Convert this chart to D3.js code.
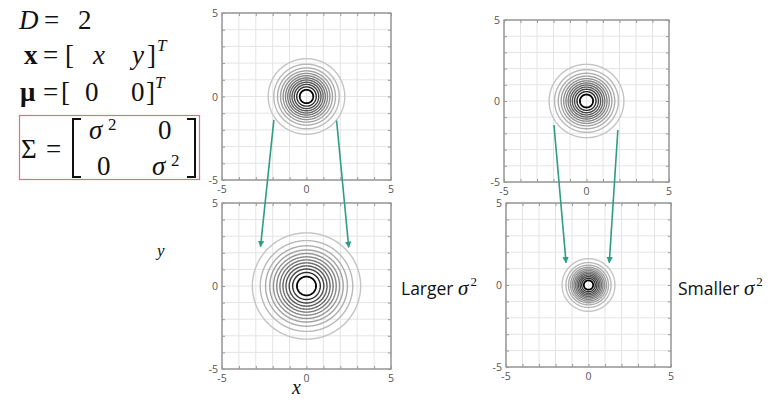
<!DOCTYPE html>
<html>
<head>
<meta charset="utf-8">
<script src="https://cdn.jsdelivr.net/npm/d3@7"></script>
<style>
  body { margin: 0; background: #fff; }
  svg { display: block; }
  .tick-label { font-family: "Open Sans", sans-serif; font-size: 10.5px; fill: #555; }
  .math { font-family: "Liberation Serif", serif; fill: #111; }
  .caption { font-family: "Open Sans", sans-serif; font-size: 17.5px; fill: #111; }
</style>
</head>
<body>
<div id="chart"></div>
<script>
// variance of each panel: top-left, bottom-left, top-right, bottom-right
var sigmaSq = [1, 2, 1, 0.5];
// contour levels as a fraction of the peak density
var levels = [1, 2, 3, 4, 5, 6, 7, 8, 9, 10, 11, 12].map(function(k) { return k / 13; });
var domain = [-5, 5];
var tickLabels = [-5, 0, 5];
var gridTicks = [-5, -4, -3, -2, -1, 0, 1, 2, 3, 4, 5];
// arrows: start point in a top panel, end point in the bottom panel (data units)
var arrowFrom = [[-1.93, -1.4], [1.78, -1.44], [-1.97, -1.48], [1.9, -1.79]];
var arrowTo = [[-2.72, 2.37], [2.5, 2.33], [-1.36, 1.36], [1.26, 1.36]];
var arrowPanels = [[0, 1], [0, 1], [2, 3], [2, 3]];

var W = 771, H = 405;
var svg = d3.select("#chart").append("svg").attr("width", W).attr("height", H);

// panel boxes in pixels
var boxes = [
  {x: 222, y: 13, w: 169, h: 167},
  {x: 222, y: 203, w: 169, h: 166},
  {x: 504, y: 20, w: 165, h: 162},
  {x: 506, y: 203, w: 165, h: 164}
];

var scales = boxes.map(function(b) {
  return {
    x: d3.scaleLinear().domain(domain).range([b.x, b.x + b.w]),
    y: d3.scaleLinear().domain(domain).range([b.y + b.h, b.y])
  };
});

var shade = d3.scaleLinear().domain([0, levels.length - 1]).range(["#c4c4c4", "#000"]).interpolate(d3.interpolateRgb.gamma(1.6));

var n = 241;
function density(s2) {
  var values = new Array(n * n);
  for (var j = 0; j < n; j++) {
    for (var i = 0; i < n; i++) {
      var xv = domain[0] + i * (domain[1] - domain[0]) / (n - 1);
      var yv = domain[0] + j * (domain[1] - domain[0]) / (n - 1);
      values[j * n + i] = Math.exp(-(xv * xv + yv * yv) / (2 * s2));
    }
  }
  return values;
}

boxes.forEach(function(b, p) {
  var sx = scales[p].x, sy = scales[p].y;
  var g = svg.append("g").attr("class", "panel");

  g.append("g").selectAll("line.gx").data(gridTicks).enter().append("line")
    .attr("x1", d => sx(d)).attr("x2", d => sx(d))
    .attr("y1", b.y).attr("y2", b.y + b.h)
    .attr("stroke", "#e4e4e4").attr("stroke-width", 1);
  g.append("g").selectAll("line.gy").data(gridTicks).enter().append("line")
    .attr("y1", d => sy(d)).attr("y2", d => sy(d))
    .attr("x1", b.x).attr("x2", b.x + b.w)
    .attr("stroke", "#e4e4e4").attr("stroke-width", 1);

  // contours
  var grid = d3.scaleLinear().domain([0.5, n - 0.5]).range(domain);
  var proj = d3.geoTransform({
    point: function(gx, gy) { this.stream.point(sx(grid(gx)), sy(grid(gy))); }
  });
  var path = d3.geoPath(proj);
  var contours = d3.contours().size([n, n]).thresholds(levels)(density(sigmaSq[p]));
  g.append("g").selectAll("path").data(contours).enter().append("path")
    .attr("d", path)
    .attr("fill", "none")
    .attr("stroke", (d, i) => shade(i))
    .attr("stroke-width", (d, i) => i === levels.length - 1 ? 1.8 : 1.4);

  // frame and inward ticks
  g.append("rect").attr("x", b.x).attr("y", b.y).attr("width", b.w).attr("height", b.h)
    .attr("fill", "none").attr("stroke", "#8a8a8a").attr("stroke-width", 1.3);
  var axB = d3.axisBottom(sx).tickValues(gridTicks).tickSize(-3).tickFormat("");
  var axT = d3.axisTop(sx).tickValues(gridTicks).tickSize(-3).tickFormat("");
  var axL = d3.axisLeft(sy).tickValues(gridTicks).tickSize(-3).tickFormat("");
  var axR = d3.axisRight(sy).tickValues(gridTicks).tickSize(-3).tickFormat("");
  [[axB, "translate(0," + (b.y + b.h) + ")"], [axT, "translate(0," + b.y + ")"],
   [axL, "translate(" + b.x + ",0)"], [axR, "translate(" + (b.x + b.w) + ",0)"]].forEach(function(a) {
    var ax = g.append("g").attr("transform", a[1]).call(a[0]);
    ax.select(".domain").remove();
    ax.selectAll("line").attr("stroke", "#999");
  });

  g.selectAll("text.xl").data(tickLabels).enter().append("text")
    .attr("class", "tick-label")
    .attr("x", d => sx(d)).attr("y", b.y + b.h + 13)
    .attr("text-anchor", "middle").text(d => d);
  g.selectAll("text.yl").data(tickLabels).enter().append("text")
    .attr("class", "tick-label")
    .attr("x", b.x - 4).attr("y", d => sy(d) + 4)
    .attr("text-anchor", "end").text(d => d);
});

// arrows
var teal = "#2e9e82";
svg.append("defs").append("marker")
  .attr("id", "head").attr("viewBox", "0 0 10 10")
  .attr("refX", 9).attr("refY", 5)
  .attr("markerWidth", 4).attr("markerHeight", 4)
  .attr("orient", "auto")
  .append("path").attr("d", "M0,0L10,5L0,10Z").attr("fill", teal);

svg.append("g").selectAll("line").data(arrowFrom).enter().append("line")
  .attr("x1", (d, i) => scales[arrowPanels[i][0]].x(d[0]))
  .attr("y1", (d, i) => scales[arrowPanels[i][0]].y(d[1]))
  .attr("x2", (d, i) => scales[arrowPanels[i][1]].x(arrowTo[i][0]))
  .attr("y2", (d, i) => scales[arrowPanels[i][1]].y(arrowTo[i][1]))
  .attr("stroke", teal).attr("stroke-width", 1.6)
  .attr("marker-end", "url(#head)");

// axis names
svg.append("text").attr("class", "math").attr("x", 157).attr("y", 256)
  .attr("font-style", "italic").attr("font-size", 17).attr("fill", "#333").text("y");
svg.append("text").attr("class", "math").attr("x", 292).attr("y", 394)
  .attr("font-style", "italic").attr("font-size", 20).attr("fill", "#333").text("x");

// captions
function caption(x, y, word) {
  var t = svg.append("text").attr("class", "caption").attr("x", x).attr("y", y);
  t.append("tspan").text(word + " ");
  t.append("tspan").attr("font-family", "Liberation Serif, serif").attr("font-style", "italic").attr("font-size", 21).text("σ");
  t.append("tspan").attr("font-family", "Liberation Serif, serif").attr("font-size", 13).attr("dx", 2).attr("dy", -9).text("2");
}
caption(401, 295, "Larger");
caption(678, 295, "Smaller");

// formulas on the left
var m = svg.append("g").attr("class", "math").attr("font-size", 27);
function put(x, y, s, opts) {
  var t = m.append("text").attr("x", x).attr("y", y).text(s);
  if (opts) Object.keys(opts).forEach(k => t.attr(k, opts[k]));
  return t;
}
put(19, 29, "D", {"font-style": "italic"});
put(44, 29, "=");
put(78, 29, "2");

put(24, 64, "x", {"font-weight": "bold"});
put(43, 64, "=");
put(65, 64, "[");
put(93, 64, "x", {"font-style": "italic"});
put(132, 64, "y", {"font-style": "italic"});
put(147, 64, "]");
put(157, 51, "T", {"font-style": "italic", "font-size": 17});

put(20, 101, "μ", {"font-weight": "bold"});
put(43, 101, "=");
put(61, 101, "[");
put(85, 101, "0");
put(131, 101, "0");
put(146, 101, "]");
put(155, 88, "T", {"font-style": "italic", "font-size": 17});

svg.append("rect").attr("x", 19.5).attr("y", 115.5).attr("width", 180).attr("height", 64)
  .attr("fill", "none").attr("stroke", "#e0707e").attr("stroke-width", 1.2);
put(21, 158, "Σ");
put(46, 158, "=");
put(89, 139, "σ", {"font-style": "italic"});
put(108, 130, "2", {"font-size": 17});
put(158, 139, "0");
put(97, 175, "0");
put(152, 175, "σ", {"font-style": "italic"});
put(171, 166, "2", {"font-size": 17});
var br = d3.path();
br.moveTo(81, 119); br.lineTo(73, 119); br.lineTo(73, 177); br.lineTo(81, 177);
br.moveTo(187, 119); br.lineTo(195, 119); br.lineTo(195, 177); br.lineTo(187, 177);
svg.append("path").attr("d", br.toString()).attr("fill", "none").attr("stroke", "#111").attr("stroke-width", 2);
</script>
</body>
</html>
